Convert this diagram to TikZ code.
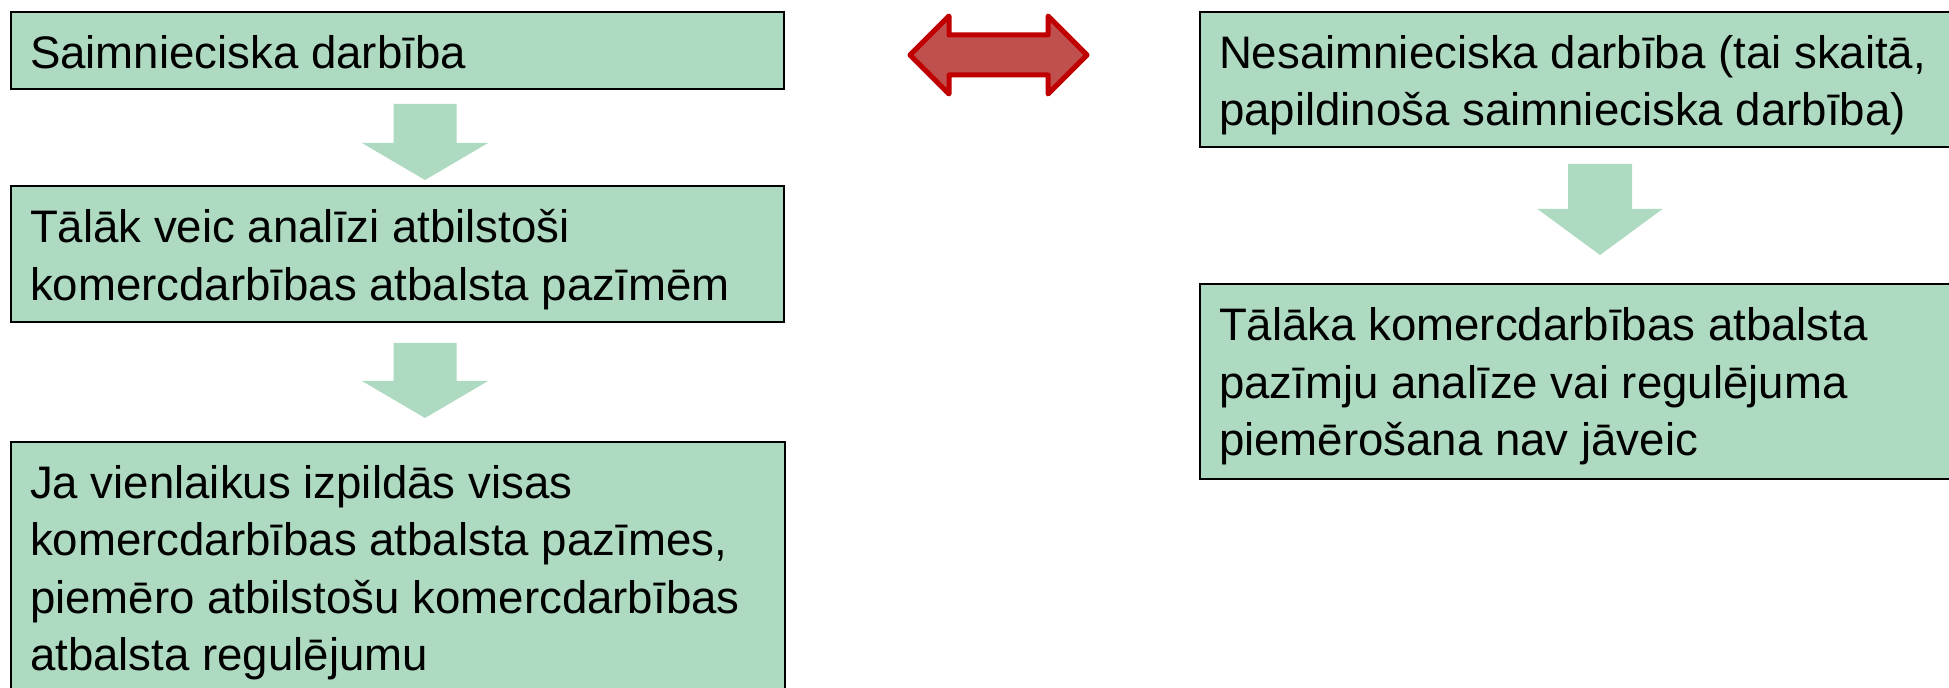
\documentclass[tikz,border=0pt]{standalone}
\usepackage{fontspec}
\setmainfont{Liberation Sans}
\definecolor{boxgreen}{RGB}{173,218,192}
\definecolor{arrowred}{RGB}{192,80,77}
\definecolor{arrowedge}{RGB}{192,0,0}
\tikzset{
  box/.style={draw=black, line width=1pt, fill=boxgreen, rectangle, inner sep=0pt, outer sep=0pt, anchor=north west},
  txt/.style={anchor=north west, inner sep=0pt, outer sep=0pt, align=left, font=\fontsize{22.8pt}{28.65pt}\selectfont},
  blockarrow/.style={fill=boxgreen, draw=none},
  dblarrow/.style={fill=arrowred, draw=arrowedge, line width=2.5pt, line join=round},
}
\begin{document}
\begin{tikzpicture}[x=0.5pt, y=-0.5pt]
\useasboundingbox (0,0) rectangle (1949,688);
\clip (0,0) rectangle (1949,688);
\fill[white] (0,0) rectangle (1949,688);

% left column boxes
\node[box, minimum width=386.5pt, minimum height=38.5pt] (b1) at (11,12) {};
\node[box, minimum width=386.5pt, minimum height=68pt] (b2) at (11,186) {};
\node[box, minimum width=387pt, minimum height=130pt] (b3) at (11,442) {};
% right column boxes
\node[box, minimum width=380pt, minimum height=67.5pt] (r1) at (1200,12) {};
\node[box, minimum width=380pt, minimum height=97.5pt] (r2) at (1200,284) {};

% texts
\node[txt] (t1) at ([shift={(19,12.5)}]b1.north west) {\rule{0pt}{22pt}Saimnieciska darbība};
\node[txt] (t2) at ([shift={(19,13)}]b2.north west) {\rule{0pt}{22pt}Tālāk veic analīzi atbilstoši\\komercdarbības atbalsta pazīmēm};
\node[txt] (t3) at ([shift={(19,12.5)}]b3.north west) {\rule{0pt}{22pt}Ja vienlaikus izpildās visas\\komercdarbības atbalsta pazīmes,\\piemēro atbilstošu komercdarbības\\atbalsta regulējumu};
\node[txt] (t4) at ([shift={(19,12.5)}]r1.north west) {\rule{0pt}{22pt}Nesaimnieciska darbība (tai skaitā,\\papildinoša saimnieciska darbība)};
\node[txt] (t5) at ([shift={(19,13)}]r2.north west) {\rule{0pt}{22pt}Tālāka komercdarbības atbalsta\\pazīmju analīze vai regulējuma\\piemērošana nav jāveic};

% green block arrows
\fill[blockarrow] (393.5,104) -- (456.5,104) -- (456.5,143) -- (488,143) -- (425,180) -- (362,143) -- (393.5,143) -- cycle;
\fill[blockarrow] (393.5,343) -- (456.5,343) -- (456.5,381) -- (488,381) -- (425,418) -- (362,381) -- (393.5,381) -- cycle;
\fill[blockarrow] (1568,164) -- (1632,164) -- (1632,209) -- (1662.5,209) -- (1600,255) -- (1537.5,209) -- (1568,209) -- cycle;

% red double arrow
\draw[dblarrow] (910,55) -- (949,16) -- (949,35) -- (1048,35) -- (1048,16) -- (1087,55)
  -- (1048,94) -- (1048,75) -- (949,75) -- (949,94) -- cycle;
\end{tikzpicture}
\end{document}
